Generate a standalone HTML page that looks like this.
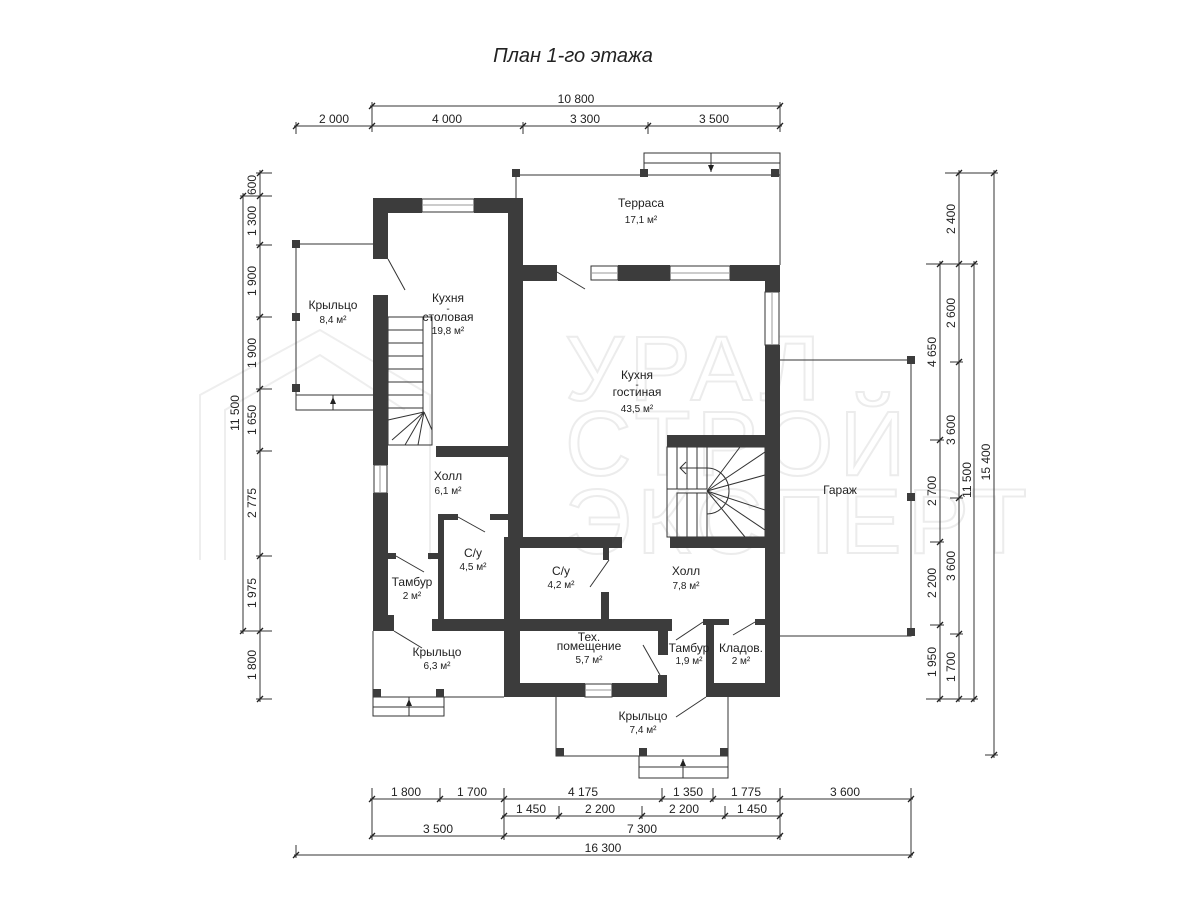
<!DOCTYPE html>
<html><head><meta charset="utf-8"><style>
html,body{margin:0;padding:0;background:#fff;}
svg{display:block;font-family:"Liberation Sans",sans-serif;}
.w{fill:#3c3c3c}
.l{stroke:#333;stroke-width:1;fill:none}
.t{font-size:12px;fill:#222;text-anchor:middle}
.a{font-size:10px;fill:#222;text-anchor:middle}
.d{font-size:12px;fill:#222;text-anchor:middle}
.wm{font-size:92px;fill:none;stroke:#ececec;stroke-width:2;letter-spacing:6px}
</style></head><body>
<svg width="1200" height="900" viewBox="0 0 1200 900" xmlns="http://www.w3.org/2000/svg">
<g>
<polyline points="200,560 200,395 320,330 430,395 430,560" fill="none" stroke="#eeeeee" stroke-width="2"/>
<polyline points="225,560 225,410 320,355 405,410" fill="none" stroke="#eeeeee" stroke-width="2"/>
<text x="565" y="400" class="wm">УРАЛ</text>
<text x="565" y="475" class="wm">СТРОЙ</text>
<text x="565" y="553" class="wm">ЭКСПЕРТ</text>
</g>
<text x="573" y="62" style="font-size:20px;font-style:italic;fill:#222;text-anchor:middle">План 1-го этажа</text>

<g class="l">
<line x1="370" y1="106" x2="782" y2="106"/>
<line x1="372" y1="102" x2="372" y2="132"/><line x1="780" y1="102" x2="780" y2="132"/>
<line x1="294" y1="126" x2="782" y2="126"/>
<line x1="296" y1="122" x2="296" y2="134"/><line x1="523" y1="122" x2="523" y2="134"/><line x1="648" y1="122" x2="648" y2="134"/>
</g>
<g stroke="#222" stroke-width="1.3">
<line x1="369" y1="109" x2="375" y2="103"/><line x1="777" y1="109" x2="783" y2="103"/>
<line x1="293" y1="129" x2="299" y2="123"/><line x1="369" y1="129" x2="375" y2="123"/><line x1="520" y1="129" x2="526" y2="123"/><line x1="645" y1="129" x2="651" y2="123"/><line x1="777" y1="129" x2="783" y2="123"/>
</g>
<text x="576" y="103" class="d">10 800</text>
<text x="334" y="123" class="d">2 000</text><text x="447" y="123" class="d">4 000</text><text x="585" y="123" class="d">3 300</text><text x="714" y="123" class="d">3 500</text>

<g class="l">
<line x1="260" y1="170" x2="260" y2="702"/>
<line x1="256" y1="173" x2="272" y2="173"/><line x1="240" y1="196" x2="272" y2="196"/><line x1="256" y1="245" x2="272" y2="245"/>
<line x1="256" y1="317" x2="272" y2="317"/><line x1="256" y1="389" x2="272" y2="389"/><line x1="256" y1="451" x2="272" y2="451"/>
<line x1="256" y1="556" x2="272" y2="556"/><line x1="240" y1="631" x2="272" y2="631"/><line x1="256" y1="699" x2="272" y2="699"/>
<line x1="243" y1="193" x2="243" y2="634"/>
</g>
<g stroke="#222" stroke-width="1.3">
<line x1="257" y1="176" x2="263" y2="170"/><line x1="257" y1="199" x2="263" y2="193"/><line x1="257" y1="248" x2="263" y2="242"/><line x1="257" y1="320" x2="263" y2="314"/><line x1="257" y1="392" x2="263" y2="386"/><line x1="257" y1="454" x2="263" y2="448"/><line x1="257" y1="559" x2="263" y2="553"/><line x1="257" y1="634" x2="263" y2="628"/><line x1="257" y1="702" x2="263" y2="696"/>
<line x1="240" y1="199" x2="246" y2="193"/><line x1="240" y1="634" x2="246" y2="628"/>
</g>
<g class="d">
<text transform="translate(256,185) rotate(-90)">600</text>
<text transform="translate(256,221) rotate(-90)">1 300</text>
<text transform="translate(256,281) rotate(-90)">1 900</text>
<text transform="translate(256,353) rotate(-90)">1 900</text>
<text transform="translate(256,420) rotate(-90)">1 650</text>
<text transform="translate(256,503) rotate(-90)">2 775</text>
<text transform="translate(256,593) rotate(-90)">1 975</text>
<text transform="translate(256,665) rotate(-90)">1 800</text>
<text transform="translate(239,413) rotate(-90)">11 500</text>
</g>

<g class="l">
<line x1="940" y1="261" x2="940" y2="702"/>
<line x1="959" y1="170" x2="959" y2="702"/>
<line x1="974" y1="261" x2="974" y2="702"/>
<line x1="994" y1="170" x2="994" y2="758"/>
<line x1="945" y1="173" x2="998" y2="173"/>
<line x1="926" y1="264" x2="978" y2="264"/>
<line x1="950" y1="362" x2="963" y2="362"/>
<line x1="930" y1="440" x2="944" y2="440"/>
<line x1="950" y1="498" x2="963" y2="498"/>
<line x1="930" y1="542" x2="944" y2="542"/>
<line x1="930" y1="625" x2="944" y2="625"/>
<line x1="950" y1="634" x2="963" y2="634"/>
<line x1="926" y1="699" x2="978" y2="699"/>
<line x1="985" y1="755" x2="998" y2="755"/>
</g>
<g stroke="#222" stroke-width="1.3">
<line x1="937" y1="267" x2="943" y2="261"/><line x1="937" y1="443" x2="943" y2="437"/><line x1="937" y1="545" x2="943" y2="539"/><line x1="937" y1="628" x2="943" y2="622"/><line x1="937" y1="702" x2="943" y2="696"/>
<line x1="956" y1="176" x2="962" y2="170"/><line x1="956" y1="267" x2="962" y2="261"/><line x1="956" y1="365" x2="962" y2="359"/><line x1="956" y1="501" x2="962" y2="495"/><line x1="956" y1="637" x2="962" y2="631"/><line x1="956" y1="702" x2="962" y2="696"/>
<line x1="971" y1="267" x2="977" y2="261"/><line x1="971" y1="702" x2="977" y2="696"/>
<line x1="991" y1="176" x2="997" y2="170"/><line x1="991" y1="758" x2="997" y2="752"/>
</g>
<g class="d">
<text transform="translate(936,352) rotate(-90)">4 650</text>
<text transform="translate(936,491) rotate(-90)">2 700</text>
<text transform="translate(936,583) rotate(-90)">2 200</text>
<text transform="translate(936,662) rotate(-90)">1 950</text>
<text transform="translate(955,219) rotate(-90)">2 400</text>
<text transform="translate(955,313) rotate(-90)">2 600</text>
<text transform="translate(955,430) rotate(-90)">3 600</text>
<text transform="translate(955,566) rotate(-90)">3 600</text>
<text transform="translate(955,667) rotate(-90)">1 700</text>
<text transform="translate(971,480) rotate(-90)">11 500</text>
<text transform="translate(990,462) rotate(-90)">15 400</text>
</g>

<g class="l">
<line x1="370" y1="799" x2="913" y2="799"/>
<line x1="502" y1="816" x2="782" y2="816"/>
<line x1="370" y1="836" x2="782" y2="836"/>
<line x1="294" y1="855" x2="913" y2="855"/>
<line x1="372" y1="788" x2="372" y2="840"/><line x1="440" y1="788" x2="440" y2="802"/><line x1="504" y1="788" x2="504" y2="840"/><line x1="662" y1="788" x2="662" y2="802"/><line x1="713" y1="788" x2="713" y2="802"/><line x1="780" y1="788" x2="780" y2="840"/><line x1="911" y1="788" x2="911" y2="858"/>
<line x1="559" y1="806" x2="559" y2="819"/><line x1="642" y1="806" x2="642" y2="819"/><line x1="725" y1="806" x2="725" y2="819"/>
<line x1="296" y1="845" x2="296" y2="858"/>
</g>
<g stroke="#222" stroke-width="1.3">
<line x1="369" y1="802" x2="375" y2="796"/><line x1="437" y1="802" x2="443" y2="796"/><line x1="501" y1="802" x2="507" y2="796"/><line x1="659" y1="802" x2="665" y2="796"/><line x1="710" y1="802" x2="716" y2="796"/><line x1="777" y1="802" x2="783" y2="796"/><line x1="908" y1="802" x2="914" y2="796"/>
<line x1="501" y1="819" x2="507" y2="813"/><line x1="556" y1="819" x2="562" y2="813"/><line x1="639" y1="819" x2="645" y2="813"/><line x1="722" y1="819" x2="728" y2="813"/><line x1="777" y1="819" x2="783" y2="813"/>
<line x1="369" y1="839" x2="375" y2="833"/><line x1="501" y1="839" x2="507" y2="833"/><line x1="777" y1="839" x2="783" y2="833"/>
<line x1="293" y1="858" x2="299" y2="852"/><line x1="908" y1="858" x2="914" y2="852"/>
</g>
<g class="d">
<text x="406" y="796">1 800</text><text x="472" y="796">1 700</text><text x="583" y="796">4 175</text><text x="688" y="796">1 350</text><text x="746" y="796">1 775</text><text x="845" y="796">3 600</text>
<text x="531" y="813">1 450</text><text x="600" y="813">2 200</text><text x="684" y="813">2 200</text><text x="752" y="813">1 450</text>
<text x="438" y="833">3 500</text><text x="642" y="833">7 300</text>
<text x="603" y="852">16 300</text>
</g>

<g class="l">
<polyline points="516,198 516,175 780,175 780,265"/>
<rect x="644" y="153" width="136" height="22"/><line x1="644" y1="163" x2="780" y2="163"/><line x1="711" y1="153" x2="711" y2="172"/>
<polyline points="373,244 296,244 296,410 373,410"/>
<line x1="296" y1="395" x2="373" y2="395"/><line x1="333" y1="395" x2="333" y2="410"/>
<polyline points="373,631 373,697 504,697"/>
<rect x="373" y="697" width="71" height="19"/><line x1="373" y1="707" x2="444" y2="707"/><line x1="409" y1="697" x2="409" y2="716"/>
<polyline points="556,697 556,756 728,756 728,697"/>
<rect x="639" y="756" width="89" height="22"/><line x1="639" y1="767" x2="728" y2="767"/><line x1="683" y1="759" x2="683" y2="778"/>
<polyline points="780,360 911,360 911,636 780,636"/>
<line x1="388" y1="259" x2="405" y2="290"/>
<line x1="557" y1="272" x2="585" y2="289"/>
<line x1="458" y1="517" x2="485" y2="532"/>
<line x1="396" y1="556" x2="424" y2="572"/>
<line x1="394" y1="631" x2="422" y2="648"/>
<line x1="609" y1="560" x2="590" y2="587"/>
<line x1="643" y1="645" x2="660" y2="675"/>
<line x1="703" y1="622" x2="676" y2="640"/>
<line x1="755" y1="622" x2="733" y2="635"/>
<line x1="706" y1="697" x2="676" y2="717"/>
<rect x="422" y="199" width="52" height="13" fill="#fff"/><line x1="422" y1="205" x2="474" y2="205" stroke="#999"/>
<rect x="591" y="266" width="27" height="14" fill="#fff"/><line x1="591" y1="273" x2="618" y2="273" stroke="#999"/>
<rect x="670" y="266" width="60" height="14" fill="#fff"/><line x1="670" y1="273" x2="730" y2="273" stroke="#999"/>
<rect x="765" y="292" width="14" height="53" fill="#fff"/><line x1="772" y1="292" x2="772" y2="345" stroke="#999"/>
<rect x="374" y="465" width="13" height="28" fill="#fff"/><line x1="380" y1="465" x2="380" y2="493" stroke="#999"/>
<rect x="585" y="684" width="27" height="13" fill="#fff"/><line x1="585" y1="690" x2="612" y2="690" stroke="#999"/>
<rect x="388" y="317" width="44" height="128"/>
<line x1="388" y1="330" x2="423" y2="330"/><line x1="388" y1="343" x2="423" y2="343"/><line x1="388" y1="356" x2="423" y2="356"/><line x1="388" y1="369" x2="423" y2="369"/><line x1="388" y1="382" x2="423" y2="382"/><line x1="388" y1="395" x2="423" y2="395"/><line x1="388" y1="408" x2="423" y2="408"/>
<line x1="423" y1="317" x2="423" y2="412"/>
<line x1="424" y1="412" x2="388" y2="420"/><line x1="424" y1="412" x2="392" y2="440"/><line x1="424" y1="412" x2="405" y2="445"/><line x1="424" y1="412" x2="418" y2="445"/><line x1="424" y1="412" x2="432" y2="430"/>
<rect x="667" y="447" width="98" height="90"/>
<rect x="667" y="447" width="40" height="42"/><rect x="677" y="493" width="30" height="44"/>
<line x1="677" y1="447" x2="677" y2="489"/><line x1="687" y1="447" x2="687" y2="489"/><line x1="697" y1="447" x2="697" y2="489"/>
<line x1="687" y1="493" x2="687" y2="537"/><line x1="697" y1="493" x2="697" y2="537"/>
<line x1="707" y1="491" x2="765" y2="452"/><line x1="707" y1="491" x2="740" y2="447"/><line x1="707" y1="491" x2="765" y2="475"/><line x1="707" y1="491" x2="765" y2="510"/><line x1="707" y1="491" x2="745" y2="537"/><line x1="707" y1="491" x2="765" y2="530"/>
<path d="M707,468 A22,23 0 0 1 707,514"/>
<line x1="680" y1="468" x2="707" y2="468"/><polyline points="686,462 680,468 686,474"/>
</g>
<g fill="#222"><polygon points="711,172 708,165 714,165"/><polygon points="333,397 330,404 336,404"/><polygon points="409,699 406,706 412,706"/><polygon points="683,759 680,766 686,766"/></g>

<g class="w">
<rect x="373" y="198" width="49" height="15"/><rect x="474" y="198" width="49" height="15"/>
<rect x="373" y="198" width="15" height="61"/>
<rect x="508" y="198" width="15" height="342"/>
<rect x="504" y="537" width="16" height="160"/>
<rect x="523" y="265" width="34" height="16"/>
<rect x="618" y="265" width="52" height="16"/>
<rect x="730" y="265" width="50" height="16"/>
<rect x="765" y="265" width="15" height="27"/>
<rect x="765" y="345" width="15" height="352"/>
<rect x="667" y="435" width="98" height="12"/>
<rect x="436" y="446" width="72" height="11"/>
<rect x="373" y="295" width="15" height="170"/>
<rect x="373" y="493" width="15" height="138"/>
<rect x="388" y="553" width="8" height="6"/><rect x="428" y="553" width="10" height="6"/>
<rect x="438" y="514" width="6" height="117"/><rect x="438" y="514" width="20" height="6"/><rect x="490" y="514" width="18" height="6"/>
<rect x="432" y="619" width="76" height="12"/>
<rect x="388" y="615" width="6" height="16"/>
<rect x="520" y="537" width="102" height="11"/>
<rect x="670" y="537" width="95" height="11"/>
<rect x="603" y="548" width="6" height="12"/>
<rect x="601" y="592" width="8" height="28"/>
<rect x="520" y="619" width="152" height="12"/>
<rect x="658" y="631" width="10" height="24"/>
<rect x="504" y="683" width="81" height="14"/>
<rect x="612" y="683" width="55" height="14"/>
<rect x="658" y="675" width="9" height="10"/>
<rect x="703" y="619" width="26" height="6"/>
<rect x="706" y="619" width="8" height="78"/>
<rect x="706" y="683" width="74" height="14"/>
<rect x="755" y="619" width="10" height="6"/>
<rect x="512" y="169" width="8" height="8"/><rect x="640" y="169" width="8" height="8"/><rect x="771" y="169" width="8" height="8"/>
<rect x="292" y="240" width="8" height="8"/><rect x="292" y="313" width="8" height="8"/><rect x="292" y="384" width="8" height="8"/>
<rect x="373" y="689" width="8" height="8"/><rect x="436" y="689" width="8" height="8"/>
<rect x="556" y="748" width="8" height="8"/><rect x="639" y="748" width="8" height="8"/><rect x="720" y="748" width="8" height="8"/>
<rect x="907" y="356" width="8" height="8"/><rect x="907" y="493" width="8" height="8"/><rect x="907" y="628" width="8" height="8"/>
</g>

<text x="641" y="207" class="t">Терраса</text><text x="641" y="223" class="a">17,1 м²</text>
<text x="333" y="309" class="t">Крыльцо</text><text x="333" y="323" class="a">8,4 м²</text>
<text x="448" y="302" class="t">Кухня</text><text x="448" y="312" class="a">-</text><text x="448" y="321" class="t">столовая</text><text x="448" y="334" class="a">19,8 м²</text>
<text x="637" y="379" class="t">Кухня</text><text x="637" y="388" class="a">-</text><text x="637" y="396" class="t">гостиная</text><text x="637" y="412" class="a">43,5 м²</text>
<text x="448" y="480" class="t">Холл</text><text x="448" y="494" class="a">6,1 м²</text>
<text x="473" y="557" class="t">С/у</text><text x="473" y="570" class="a">4,5 м²</text>
<text x="561" y="575" class="t">С/у</text><text x="561" y="588" class="a">4,2 м²</text>
<text x="686" y="575" class="t">Холл</text><text x="686" y="589" class="a">7,8 м²</text>
<text x="412" y="586" class="t">Тамбур</text><text x="412" y="599" class="a">2 м²</text>
<text x="437" y="656" class="t">Крыльцо</text><text x="437" y="669" class="a">6,3 м²</text>
<text x="589" y="641" class="t">Тех.</text><text x="589" y="650" class="t">помещение</text><text x="589" y="663" class="a">5,7 м²</text>
<text x="689" y="652" class="t">Тамбур</text><text x="689" y="664" class="a">1,9 м²</text>
<text x="741" y="652" class="t">Кладов.</text><text x="741" y="664" class="a">2 м²</text>
<text x="643" y="720" class="t">Крыльцо</text><text x="643" y="733" class="a">7,4 м²</text>
<text x="840" y="494" class="t">Гараж</text>
</svg>
</body></html>
